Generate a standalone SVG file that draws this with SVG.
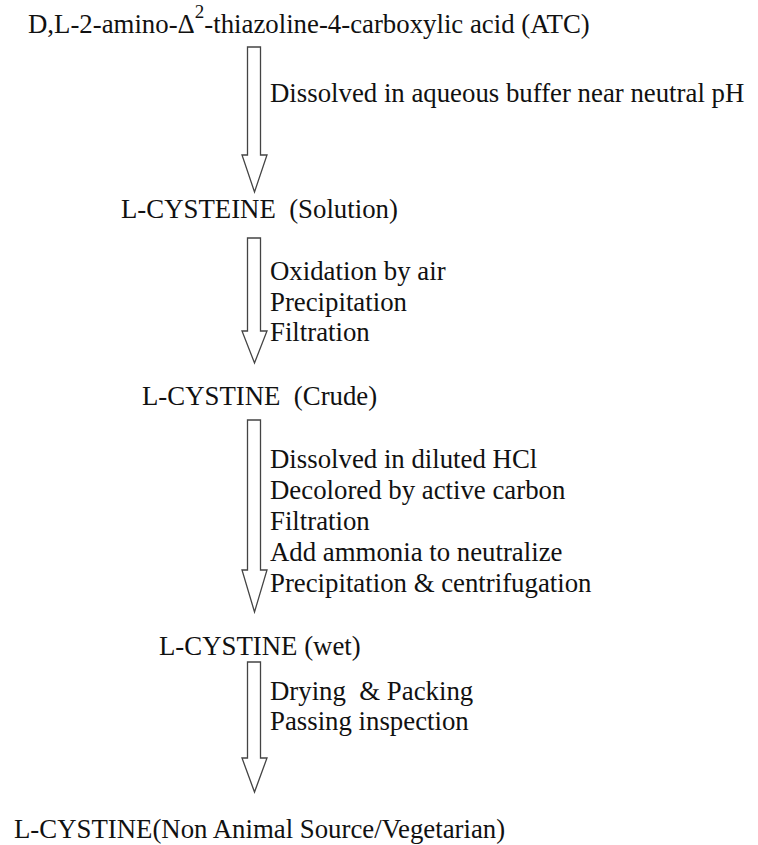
<svg xmlns="http://www.w3.org/2000/svg" width="758" height="845" viewBox="0 0 758 845">
<style>
text{font-family:'Liberation Serif','Times New Roman',serif;font-size:26.8px;fill:#111}
.arrow{fill:#fff;stroke:#444;stroke-width:1.3;stroke-linejoin:miter}
</style>
<rect width="758" height="845" fill="#fff"/>
<g id="connectors">
<path class="arrow" d="M247.5,47 L260.5,47 L260.5,155 L267,155 L254.5,192 L242,155 L247.5,155 Z"/>
<path class="arrow" d="M247.5,238 L260.5,238 L260.5,331 L267,331 L254.5,363 L242,331 L247.5,331 Z"/>
<path class="arrow" d="M247.5,420 L260.5,420 L260.5,570 L267,570 L254.5,612 L242,570 L247.5,570 Z"/>
<path class="arrow" d="M247.5,662 L260.5,662 L260.5,758 L267,758 L254.5,792 L242,758 L247.5,758 Z"/>
</g>
<g id="node-atc"><text x="28" y="33">D,L-2-amino-Δ<tspan font-size="19" dy="-15">2</tspan><tspan dy="15">-thiazoline-4-carboxylic acid (ATC)</tspan></text></g>
<g id="label-1"><text x="270" y="102">Dissolved in aqueous buffer near neutral pH</text></g>
<g id="node-cysteine"><text x="121" y="218" xml:space="preserve">L-CYSTEINE  (Solution)</text></g>
<g id="label-2">
<text x="270" y="280">Oxidation by air</text>
<text x="270" y="310.5">Precipitation</text>
<text x="270" y="341">Filtration</text>
</g>
<g id="node-cystine-crude"><text x="142" y="405" xml:space="preserve">L-CYSTINE  (Crude)</text></g>
<g id="label-3">
<text x="270" y="468">Dissolved in diluted HCl</text>
<text x="270" y="499">Decolored by active carbon</text>
<text x="270" y="530">Filtration</text>
<text x="270" y="561">Add ammonia to neutralize</text>
<text x="270" y="592">Precipitation &amp; centrifugation</text>
</g>
<g id="node-cystine-wet"><text x="159" y="655">L-CYSTINE (wet)</text></g>
<g id="label-4">
<text x="270" y="700" xml:space="preserve">Drying  &amp; Packing</text>
<text x="270" y="730">Passing inspection</text>
</g>
<g id="node-cystine-final"><text x="14" y="838">L-CYSTINE(Non Animal Source/Vegetarian)</text></g>
</svg>
